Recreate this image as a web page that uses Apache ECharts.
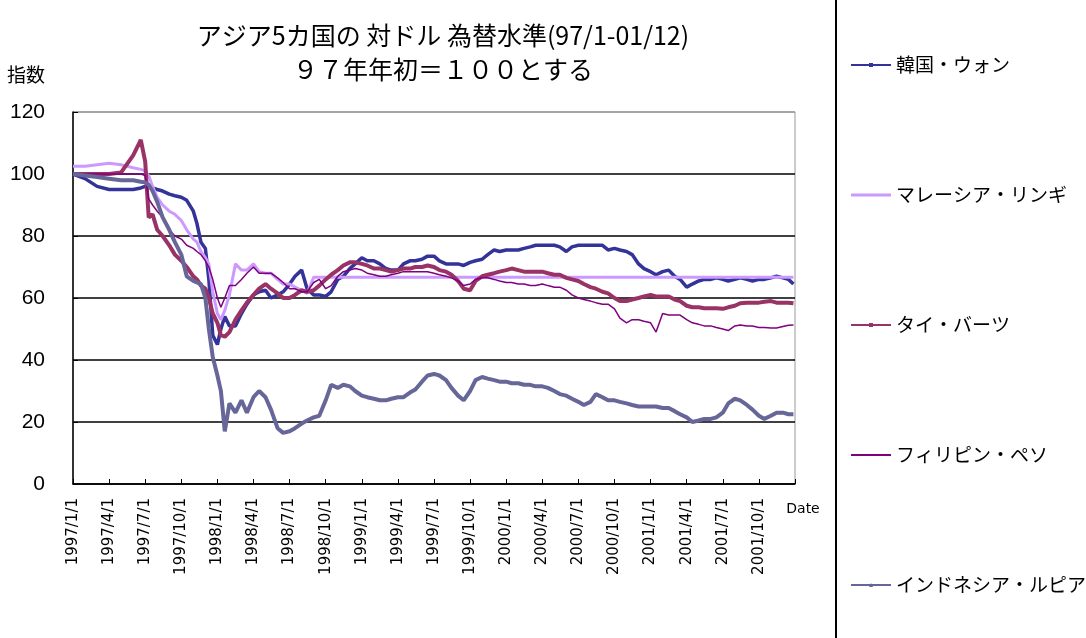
<!DOCTYPE html>
<html>
<head>
<meta charset="utf-8">
<script src="https://cdn.jsdelivr.net/npm/echarts@6/dist/echarts.min.js"></script>
<style>
html,body{margin:0;padding:0;background:#fff;}
#chart{width:1086px;height:638px;}
</style>
</head>
<body>
<div id="chart"></div>
<script>
const titleLine1 = 'アジア5カ国の 対ドル 為替水準(97/1-01/12)';
const titleLine2 = '９７年年初＝１００とする';
const seriesNames = ['韓国・ウォン', 'マレーシア・リンギ', 'タイ・バーツ', 'フィリピン・ペソ', 'インドネシア・ルピア'];
const tickLabels = ['1997/1/1','1997/4/1','1997/7/1','1997/10/1','1998/1/1','1998/4/1','1998/7/1','1998/10/1',
  '1999/1/1','1999/4/1','1999/7/1','1999/10/1','2000/1/1','2000/4/1','2000/7/1','2000/10/1',
  '2001/1/1','2001/4/1','2001/7/1','2001/10/1'];

const dates = [
  '1997/01/01','1997/02/01','1997/03/01','1997/04/01','1997/05/01','1997/06/01','1997/06/20','1997/07/01',
  '1997/07/10','1997/07/20','1997/08/01','1997/08/15','1997/09/01','1997/09/15','1997/10/01','1997/10/15',
  '1997/11/01','1997/11/10','1997/11/20','1997/12/01','1997/12/10','1997/12/20',
  '1998/01/01','1998/01/10','1998/01/20','1998/02/01','1998/02/15',
  '1998/03/01','1998/03/15','1998/04/01','1998/04/15','1998/05/01','1998/05/15','1998/06/01','1998/06/15',
  '1998/07/01','1998/07/15','1998/08/01','1998/08/15','1998/09/01','1998/09/15','1998/10/01','1998/10/15',
  '1998/11/01','1998/11/15','1998/12/01','1998/12/15',
  '1999/01/01','1999/01/15','1999/02/01','1999/02/15','1999/03/01','1999/03/15','1999/04/01','1999/04/15',
  '1999/05/01','1999/05/15','1999/06/01','1999/06/15','1999/07/01','1999/07/15','1999/08/01','1999/08/15',
  '1999/09/01','1999/09/15','1999/10/01','1999/10/15','1999/11/01','1999/11/15','1999/12/01','1999/12/15',
  '2000/01/01','2000/01/15','2000/02/01','2000/02/15','2000/03/01','2000/03/15','2000/04/01','2000/04/15',
  '2000/05/01','2000/05/15','2000/06/01','2000/06/15','2000/07/01','2000/07/15','2000/08/01','2000/08/15',
  '2000/09/01','2000/09/15','2000/10/01','2000/10/15','2000/11/01','2000/11/15','2000/12/01','2000/12/15',
  '2001/01/01','2001/01/15','2001/02/01','2001/02/15','2001/03/01','2001/03/15','2001/04/01','2001/04/15',
  '2001/05/01','2001/05/15','2001/06/01','2001/06/15','2001/07/01','2001/07/15','2001/08/01','2001/08/15',
  '2001/09/01','2001/09/15','2001/10/01','2001/10/15','2001/11/01','2001/11/15','2001/12/01','2001/12/15','2001/12/28'
];

const korea = [
  100, 98.5, 96, 95, 95, 95, 95.5, 96, 96, 95.5, 95, 94.5, 93.5, 93, 92.5, 91.5, 88, 84, 78, 76, 66, 48,
  45, 50, 54, 51, 51,
  55, 58, 61, 62, 62.5, 60, 61, 62, 64.5, 67, 69, 63, 61, 61, 60.5, 62, 66, 67, 69.5, 71,
  73, 72, 72, 71, 69.5, 69, 69, 71, 72, 72, 72.5, 73.5, 73.5, 72, 71, 71, 71, 70.5, 71.5, 72, 72.5, 74, 75.5, 75,
  75.5, 75.5, 75.5, 76, 76.5, 77, 77, 77, 77, 76.5, 75, 76.5, 77, 77, 77, 77, 77, 75.5, 76, 75.5, 75, 74, 71, 69.5,
  68.5, 67.5, 68.5, 69, 67, 66, 63.5, 64.5, 65.5, 66, 66, 66.5, 66, 65.5, 66, 66.5, 66, 65.5, 66, 66, 66.5, 67, 66.5, 66, 64.5
];
const malaysia = [
  102.5, 102.5, 103, 103.5, 103, 102, 101.5, 101, 99.5, 96, 92.5, 90, 88, 87, 85, 82, 79, 78, 75, 73, 71, 62,
  55, 53, 56, 61, 71,
  69, 69, 71, 68.5, 68, 68, 66, 64.5, 64.5, 63.5, 62.5, 61.5, 66.7, 66.7, 66.7, 66.7, 66.7, 66.7, 66.7, 66.7,
  66.7, 66.7, 66.7, 66.7, 66.7, 66.7, 66.7, 66.7, 66.7, 66.7, 66.7, 66.7, 66.7, 66.7, 66.7, 66.7, 66.7, 66.7, 66.7, 66.7, 66.7, 66.7, 66.7, 66.7,
  66.7, 66.7, 66.7, 66.7, 66.7, 66.7, 66.7, 66.7, 66.7, 66.7, 66.7, 66.7, 66.7, 66.7, 66.7, 66.7, 66.7, 66.7, 66.7, 66.7, 66.7, 66.7, 66.7, 66.7,
  66.7, 66.7, 66.7, 66.7, 66.7, 66.7, 66.7, 66.7, 66.7, 66.7, 66.7, 66.7, 66.7, 66.7, 66.7, 66.7, 66.7, 66.7, 66.7, 66.7, 66.7, 66.7, 66.7, 66.7, 66.7
];
const thailand = [
  100, 100, 100, 100, 100.5, 106, 111, 104, 86, 87, 82, 80, 77, 74, 72, 70, 67, 66, 64, 63, 60, 55,
  52, 48, 47.5, 49, 53,
  56, 58.5, 61, 63, 64.5, 63, 61.5, 60, 60, 61, 62.5, 62, 62.5, 64, 66, 67.5, 69, 70.5, 71.5, 71.5,
  71, 70.5, 69.5, 69.5, 69, 68.5, 69, 69.5, 69.5, 70, 70, 70.5, 70, 69, 68.5, 67.5, 65.5, 63, 62.5, 65.5, 67, 67.5, 68, 68.5,
  69, 69.5, 69, 68.5, 68.5, 68.5, 68.5, 68, 67.5, 67.5, 66.5, 66, 65.5, 64.5, 63.5, 63, 62, 61.5, 60, 59, 59, 59.5, 60, 60.5,
  61, 60.5, 60.5, 60.5, 59.5, 59, 57.5, 57, 57, 56.7, 56.7, 56.7, 56.5, 57, 57.5, 58.3, 58.5, 58.5, 58.5, 58.8, 59, 58.5, 58.5, 58.5, 58.3
];
const philippines = [
  100, 100, 100, 100, 100, 100, 100, 99.5, 92, 90, 88, 86, 82, 80, 79, 77, 76, 75, 74, 72, 70, 66,
  60, 57, 60, 64, 64,
  66, 68, 70, 68, 68, 68, 66.5, 65, 63, 63, 62, 62, 65, 66, 63, 64, 67, 68.5, 69, 69.5,
  69, 68, 67.5, 67, 67, 67.5, 68, 68.5, 68.5, 68.5, 68.5, 68.5, 68, 67.5, 67, 66.5, 65.5, 64, 64.5, 66, 66.5, 66.5, 66, 65.5,
  65, 65, 64.5, 64.5, 64, 64, 64.5, 64, 63.5, 63.5, 62.5, 61, 60, 59.5, 59, 58.5, 58, 58, 56.5, 53.5, 52, 53, 53, 52.5,
  52, 49, 55, 54.5, 54.5, 54.5, 53, 52, 51.5, 51, 51, 50.5, 50, 49.5, 51, 51.3, 51, 51, 50.5, 50.5, 50.3, 50.3, 50.8, 51.2, 51.3
];
const indonesia = [
  100, 99.5, 99, 98.5, 98, 98, 97.5, 97.3, 96.5, 94.5, 91, 86, 82, 78, 74, 67, 65.5, 65, 64.5, 60, 50, 41,
  35, 30, 17, 26, 23,
  27, 23, 28, 30, 28, 24, 18, 16.5, 17, 18, 19.5, 20.5, 21.5, 22, 27, 32, 31, 32, 31.5, 30,
  28.5, 28, 27.5, 27, 27, 27.5, 28, 28, 29.5, 30.5, 33, 35, 35.5, 35, 33.5, 31, 28.5, 27, 30, 33.5, 34.5, 34, 33.5, 33,
  33, 32.5, 32.5, 32, 32, 31.5, 31.5, 31, 30, 29, 28.5, 27.5, 26.5, 25.5, 26.5, 29, 28, 27, 27, 26.5, 26, 25.5, 25, 25,
  25, 25, 24.5, 24.5, 23.5, 22.5, 21.5, 20, 20.5, 21, 21, 21.5, 23, 26, 27.5, 27, 25.5, 24, 22, 21, 22, 23, 23, 22.5, 22.5
];

function monthIndex(s) {
  const p = s.split('/').map(Number);
  const dim = new Date(p[0], p[1], 0).getDate();
  return (p[0] - 1997) * 12 + (p[1] - 1) + (p[2] - 1) / dim;
}
function pairs(vals) { return dates.map((d, i) => [monthIndex(d), vals[i]]); }

const allVals = [korea, malaysia, thailand, philippines, indonesia];
const colors = ['#333399', '#CC99FF', '#993366', '#800080', '#666699'];
const widths = [3.5, 3, 4, 1.5, 4];
const symbols = ['rect', 'none', 'rect', 'none', 'triangle'];
const legendPaths = {1: 'path://M0 0H40V3H0Z', 3: 'path://M0 0H40V2H0Z'};

const chart = echarts.init(document.getElementById('chart'), null, {renderer: 'canvas'});
const jp = '"Noto Sans CJK JP", sans-serif';

chart.setOption({
  backgroundColor: '#fff',
  animation: false,
  title: {
    text: titleLine1 + '\n' + titleLine2,
    left: 438, top: 13, textAlign: 'center',
    textStyle: {fontFamily: jp, fontSize: 25, fontWeight: 'normal', color: '#000', lineHeight: 34}
  },
  legend: {
    orient: 'vertical', left: 845, top: 50,
    itemWidth: 40, itemHeight: 5, itemGap: 110,
    textStyle: {fontFamily: jp, fontSize: 19, color: '#000', lineHeight: 20},
    data: seriesNames.map((n, k) => legendPaths[k]
      ? {name: n, icon: legendPaths[k], itemStyle: {color: colors[k], opacity: 1}}
      : {name: n})
  },
  graphic: [{
    type: 'rect', z: -1, silent: true,
    shape: {x: 836, y: -4, width: 400, height: 646},
    style: {fill: 'none', stroke: '#000', lineWidth: 2}
  }],
  grid: {left: 73, right: 291, top: 112, bottom: 154, show: true, borderColor: '#999', borderWidth: 1, backgroundColor: 'transparent'},
  xAxis: {
    type: 'value', min: 0, max: 60, interval: 3,
    name: 'Date', nameLocation: 'end', nameGap: 8,
    nameTextStyle: {fontFamily: '"DejaVu Sans", sans-serif', fontSize: 14, color: '#000', align: 'center', verticalAlign: 'top', padding: [18, 0, 0, 0]},
    axisLine: {lineStyle: {color: '#000', width: 1.5}},
    axisTick: {inside: true, length: 5, lineStyle: {color: '#000'}},
    splitLine: {show: false},
    axisLabel: {
      rotate: 90, margin: 14, fontSize: 15, color: '#000', fontFamily: '"DejaVu Sans", sans-serif',
      formatter: function (v) { const i = Math.round(v / 3); return (v < 60 && tickLabels[i]) ? tickLabels[i] : ''; }
    }
  },
  yAxis: {
    type: 'value', min: 0, max: 120, interval: 20,
    name: '指数', nameLocation: 'end', nameGap: 28,
    nameTextStyle: {fontFamily: jp, fontSize: 19, color: '#000', align: 'right', verticalAlign: 'bottom', padding: [0, 28, 0, 0]},
    axisLine: {show: true, lineStyle: {color: '#000', width: 1.5}},
    axisTick: {show: true, inside: true, length: 5, lineStyle: {color: '#000'}},
    axisLabel: {fontSize: 21, color: '#000', margin: 28, fontFamily: '"Liberation Sans", sans-serif'},
    splitLine: {show: true, lineStyle: {color: ['#000', '#000', '#000', '#000', '#000', '#000', '#999'], width: 1.5}}
  },
  series: seriesNames.map((n, k) => ({
    name: n, type: 'line',
    data: pairs(allVals[k]),
    color: colors[k],
    lineStyle: {width: widths[k], color: colors[k]},
    itemStyle: {color: colors[k]},
    symbol: symbols[k], symbolSize: 5, showSymbol: false,
    smooth: false
  }))
});
</script>
</body>
</html>
